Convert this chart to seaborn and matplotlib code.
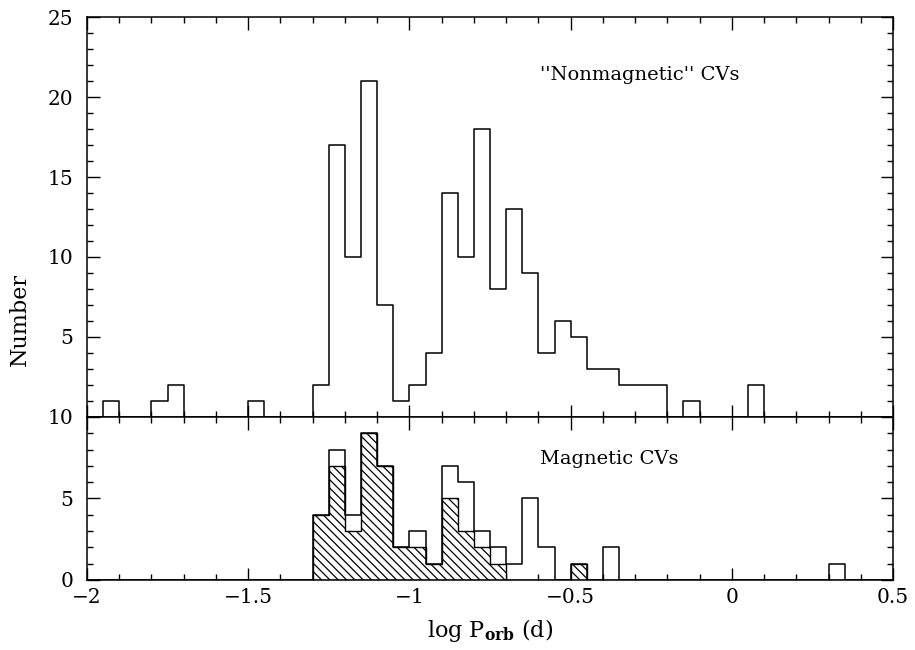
import numpy as np
import pandas as pd
import matplotlib
matplotlib.use("Agg")
import matplotlib.pyplot as plt
from matplotlib.ticker import MultipleLocator, FuncFormatter
import seaborn as sns

sns.set_style("ticks")
plt.rcParams['font.family'] = ['DejaVu Serif']
plt.rcParams['mathtext.fontset'] = 'dejavuserif'
plt.rcParams['hatch.linewidth'] = 0.9
plt.rcParams['text.color'] = 'black'
plt.rcParams['axes.labelcolor'] = 'black'

# bin edges (width 0.05 in log P)
bin_edges = [round(v, 2) for v in np.arange(-2.0, 0.5001, 0.05)]
bin_centers = [round((a + b) / 2, 3) for a, b in zip(bin_edges[:-1], bin_edges[1:])]

nonmag_counts = [0, 1, 0, 0, 1, 2, 0, 0, 0, 0,
                 1, 0, 0, 0, 2, 17, 10, 21, 7, 1,
                 2, 4, 14, 10, 18, 8, 13, 9, 4, 6,
                 5, 3, 3, 2, 2, 2, 0, 1, 0, 0,
                 0, 2, 0, 0, 0, 0, 0, 0, 0, 0]

mag_all_counts = [0, 0, 0, 0, 0, 0, 0, 0, 0, 0,
                  0, 0, 0, 0, 4, 8, 4, 9, 7, 2,
                  3, 1, 7, 6, 3, 2, 1, 5, 2, 0,
                  1, 0, 2, 0, 0, 0, 0, 0, 0, 0,
                  0, 0, 0, 0, 0, 0, 1, 0, 0, 0]

mag_hatched_counts = [0, 0, 0, 0, 0, 0, 0, 0, 0, 0,
                      0, 0, 0, 0, 4, 7, 3, 9, 7, 2,
                      2, 1, 5, 3, 2, 1, 0, 0, 0, 0,
                      1, 0, 0, 0, 0, 0, 0, 0, 0, 0,
                      0, 0, 0, 0, 0, 0, 0, 0, 0, 0]

df = pd.DataFrame({"logP": bin_centers, "nonmag": nonmag_counts,
                   "mag_all": mag_all_counts, "mag_hatch": mag_hatched_counts})

fig = plt.figure(figsize=(9.15, 6.5), dpi=100)
ax1 = fig.add_axes([0.0951, 0.3585, 0.8809, 0.6153])
ax2 = fig.add_axes([0.0951, 0.1077, 0.8809, 0.2508])

sns.histplot(data=df, x="logP", weights="nonmag", bins=bin_edges, element="step",
             fill=False, color="black", linewidth=1.1, ax=ax1)

sns.histplot(data=df, x="logP", weights="mag_hatch", bins=bin_edges, element="step",
             fill=True, facecolor="white", edgecolor="black", hatch="\\\\\\\\",
             linewidth=1.0, alpha=1, ax=ax2)
sns.histplot(data=df, x="logP", weights="mag_all", bins=bin_edges, element="step",
             fill=False, color="black", linewidth=1.1, ax=ax2)

fmt = FuncFormatter(lambda v, p: ("%g" % v).replace("-", "\u2212"))
for ax in (ax1, ax2):
    ax.set_xlim(-2, 0.5)
    ax.xaxis.set_major_locator(MultipleLocator(0.5))
    ax.xaxis.set_minor_locator(MultipleLocator(0.1))
    ax.xaxis.set_major_formatter(fmt)
    ax.yaxis.set_major_locator(MultipleLocator(5))
    ax.yaxis.set_minor_locator(MultipleLocator(1))
    ax.tick_params(which='both', direction='in', top=True, right=True,
                   labelsize=14.5, width=1, color='black', labelcolor='black')
    ax.tick_params(which='major', length=9)
    ax.tick_params(which='minor', length=4.5)
    ax.tick_params(axis='y', which='major', pad=10)
    ax.tick_params(axis='x', which='major', pad=6)
    for s in ax.spines.values():
        s.set_linewidth(1.1)
        s.set_color('black')
    ax.set_ylabel("")
    ax.set_xlabel("")

ax1.set_ylim(0, 25)
ax1.set_yticks([5, 10, 15, 20, 25])
ax1.tick_params(labelbottom=False)
ax2.set_ylim(0, 10)
ax2.set_yticks([0, 5, 10])

ax1.text(-0.595, 21.4, "''Nonmagnetic'' CVs", fontsize=14, ha='left', va='center',
         color='black')
ax2.text(-0.595, 7.45, "Magnetic CVs", fontsize=14, ha='left', va='center',
         color='black')

ax2.set_xlabel(r"log P$_{\mathbf{orb}}$ (d)", fontsize=16, labelpad=7, color='black')
fig.text(0.022, 1 - 320 / 650, "Number", rotation=90, fontsize=16,
         ha='center', va='center', color='black')

fig.savefig("out.png", dpi=100)
